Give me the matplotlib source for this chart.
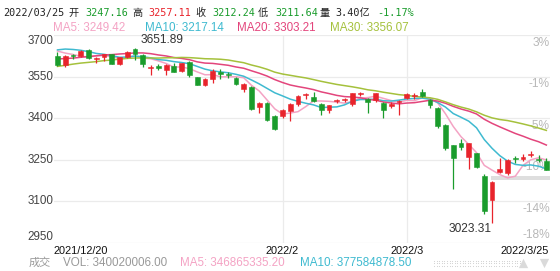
import numpy as np
import pandas as pd
import matplotlib
matplotlib.use("Agg")
import matplotlib.pyplot as plt

# trading days 2021/12/20 .. 2022/03/25 (new year + spring festival closed)
holidays = ["2022-01-03", "2022-01-31", "2022-02-01", "2022-02-02", "2022-02-03", "2022-02-04"]
dates = [d for d in pd.bdate_range("2021-12-20", "2022-03-25") if d.strftime("%Y-%m-%d") not in holidays]

opens = [3625, 3592, 3628, 3625, 3646, 3612, 3620, 3630, 3596, 3622,
         3649, 3628, 3582, 3590, 3573, 3590, 3570, 3601, 3547, 3521,
         3541, 3566, 3558, 3545, 3507, 3511, 3440, 3455, 3408, 3407,
         3427, 3451, 3482, 3475, 3451, 3428, 3462, 3466, 3450, 3488,
         3468, 3464, 3456, 3443, 3458, 3472, 3481, 3496, 3466, 3437,
         3374, 3303, 3312, 3259, 3273, 3191, 3105, 3207, 3201, 3256,
         3252, 3268, 3252, 3247.16]
highs = [3640, 3627, 3632, 3646, 3650, 3622, 3633, 3632, 3622, 3642,
         3651.89, 3631, 3592, 3596, 3594, 3598, 3600, 3605, 3550, 3545,
         3576, 3576, 3566, 3550, 3526, 3515, 3460, 3458, 3410, 3432,
         3455, 3482, 3490, 3496, 3455, 3448, 3470, 3472, 3492, 3496,
         3472, 3491, 3460, 3458, 3466, 3491, 3491, 3507, 3470, 3440,
         3378, 3305, 3325, 3312, 3275, 3198, 3173, 3256, 3252, 3265,
         3270, 3281, 3266, 3257.11]
lows = [3588, 3583, 3612, 3620, 3612, 3600, 3605, 3595, 3592, 3618,
        3610, 3583, 3556, 3575, 3556, 3565, 3565, 3550, 3518, 3515,
        3526, 3540, 3545, 3518, 3496, 3428, 3418, 3390, 3356, 3400,
        3391, 3445, 3470, 3458, 3413, 3420, 3455, 3460, 3445, 3480,
        3420, 3460, 3400, 3438, 3412, 3468, 3470, 3476, 3438, 3365,
        3285, 3145, 3285, 3216, 3220, 3056, 3023.31, 3202, 3196, 3240,
        3245, 3260, 3242, 3211.64]
closes = [3593.60, 3625.13, 3622.62, 3643.34, 3618.05, 3615.97, 3630.11, 3597.00, 3619.19, 3639.78,
          3632.33, 3595.18, 3586.08, 3579.54, 3593.52, 3567.44, 3597.43, 3555.26, 3521.26, 3541.67,
          3569.91, 3558.18, 3555.06, 3522.57, 3524.11, 3433.06, 3455.67, 3394.25, 3361.44, 3429.58,
          3452.63, 3479.95, 3485.91, 3462.95, 3428.88, 3446.09, 3465.83, 3468.04, 3490.76, 3490.61,
          3457.15, 3489.15, 3429.96, 3451.41, 3462.31, 3488.83, 3484.19, 3481.11, 3447.65, 3372.86,
          3293.53, 3256.39, 3296.09, 3309.75, 3223.53, 3063.97, 3170.71, 3215.04, 3251.07, 3253.69,
          3259.86, 3271.03, 3250.26, 3212.24]
# closes before the visible window, only feed the moving averages
prior_closes = [3498.63, 3507.00, 3492.46, 3532.79, 3539.10, 3533.30, 3521.79, 3537.37, 3520.71, 3560.37,
                3589.09, 3589.70, 3592.70, 3584.18, 3564.09, 3562.70, 3563.89, 3576.89, 3573.84, 3607.43,
                3589.31, 3595.09, 3637.57, 3673.04, 3666.35, 3681.08, 3661.53, 3647.63, 3675.02, 3632.36]

price_ticks = [3700, 3550, 3400, 3250, 3100, 2950]
ma_periods = [5, 10, 20, 30]
vol_info = ["VOL: 340020006.00", "MA5: 346865335.20", "MA10: 377584878.50"]

RED = "#e8242c"
GREEN = "#1a9c2c"
MA_COLORS = ["#f4a3c4", "#3fbad0", "#e3457c", "#a5c13c"]
FONT = "Liberation Sans"
CJK = ["DejaVu Sans Mono", "Noto Sans CJK SC"]

W, H = 560, 271
fig = plt.figure(figsize=(W / 100, H / 100), dpi=100)
ax = fig.add_axes([54 / W, 1 - 243 / H, 496 / W, 208 / H])
n = len(closes)
x = np.arange(n)
ax.set_xlim(-0.45, 63.47)
ax.set_ylim(2950, 3700)
ax.axis("off")

# grid
for p in price_ticks:
    ax.axhline(p, color="#ebebeb", lw=0.9, zorder=0)
month_idx = [i for i in range(1, n) if dates[i].month != dates[i - 1].month and dates[i].month != 1]
for i in month_idx:
    ax.axvline(i, color="#ebebeb", lw=0.9, zorder=0)

# moving averages
allc = pd.Series(prior_closes + closes)
for per, col in zip(ma_periods, MA_COLORS):
    ma = allc.rolling(per).mean().values[len(prior_closes):]
    ax.plot(x, ma, color=col, lw=1.1, zorder=2)

# candles
o = np.array(opens); c = np.array(closes); h = np.array(highs); l = np.array(lows)
cols = [RED if cc >= oo else GREEN for oo, cc in zip(o, c)]
ax.vlines(x, l, h, colors=cols, lw=0.9, zorder=3)
body_lo = np.minimum(o, c)
body_h = np.maximum(np.abs(c - o), 2.5)
ax.bar(x, body_h, bottom=body_lo, width=0.62, color=cols, edgecolor=cols, lw=0.4, zorder=4)

# light band under the last candles
lo_i = int(np.argmin(l))
ax.fill_between([lo_i - 0.1, n - 0.5], 3177, 3190, color="#dedede", lw=0, zorder=1)

# high / low labels
hi_i = int(np.argmax(h))
ax.annotate(f"{h[hi_i]:.2f}", (hi_i, h[hi_i]), xytext=(4, 6), textcoords="offset points",
            ha="left", va="center", fontsize=8.6, family=FONT, color="#333333")
ax.annotate(f"{l[lo_i]:.2f}", (lo_i, l[lo_i]), xytext=(0, -4.5), textcoords="offset points",
            ha="right", va="center", fontsize=8.6, family=FONT, color="#333333")

# left price labels
for k, p in enumerate(price_ticks):
    va = "top" if k == 0 else ("bottom" if k == len(price_ticks) - 1 else "center")
    ax.text(-0.5, p, str(p), ha="right", va=va, fontsize=8.4, family=FONT, color="#444444")

# right percent labels
base = closes[0]
for k, p in enumerate(price_ticks):
    pct = f"{round((p / base - 1) * 100):d}%"
    va = "bottom" if k == len(price_ticks) - 1 else "top"
    ax.text(63.45, p + (6 if va == "bottom" else -6), pct, ha="right", va=va,
            fontsize=8.6, family=FONT, color="#b8b8b8", zorder=1)

# date labels
first, last = dates[0], dates[-1]
fig.text(54 / W, 1 - 251 / H, f"{first.year}/{first.month}/{first.day}", ha="left", va="center",
         fontsize=7.9, family=FONT, color="#111111")
for i in month_idx:
    xf = (54 + (i + 0.45) / 63.92 * 496) / W
    fig.text(xf, 1 - 251 / H, f"{dates[i].year}/{dates[i].month}", ha="center", va="center",
             fontsize=7.9, family=FONT, color="#111111")
fig.text(549 / W, 1 - 251 / H, f"{last.year}/{last.month}/{last.day}", ha="right", va="center",
         fontsize=7.9, family=FONT, color="#111111")

# header line
chg = (closes[-1] / closes[-2] - 1) * 100
head = [(3, last.strftime("%Y/%m/%d"), "#222222"),
        (68, "开", "#222222"), (85, f"{opens[-1]:.2f}", GREEN),
        (132, "高", "#222222"), (148, f"{highs[-1]:.2f}", RED),
        (195, "收", "#222222"), (212, f"{closes[-1]:.2f}", GREEN),
        (258, "低", "#222222"), (275, f"{lows[-1]:.2f}", GREEN),
        (320, "量", "#222222"), (335, "3.40亿", "#222222"),
        (377, f"{chg:.2f}%", GREEN)]
for px, s, col in head:
    fig.text(px / W, 1 - 13 / H, s, ha="left", va="center", fontsize=7.3, family=CJK, color=col)

# MA legend line
ma_pos = [53, 145, 237, 330]
for px, per, col in zip(ma_pos, ma_periods, MA_COLORS):
    val = allc.iloc[-per:].mean()
    fig.text(px / W, 1 - 28 / H, f"MA{per}: {val:.2f}", ha="left", va="center",
             fontsize=8.4, family=FONT, color=col)

# volume line
fig.text(29 / W, 1 - 263 / H, "成交", ha="left", va="center", fontsize=8,
         family=["Noto Sans CJK SC"], color="#9a9a9a", style="italic")
for px, s, col in zip([63, 180, 300], vol_info, ["#999999", MA_COLORS[0], MA_COLORS[1]]):
    fig.text(px / W, 1 - 263 / H, s, ha="left", va="center", fontsize=8.4, family=FONT, color=col)

# scroll handle and arrows in pixel coords
ov = fig.add_axes([0, 0, 1, 1], zorder=-1)
ov.set_xlim(0, W)
ov.set_ylim(H, 0)
ov.axis("off")
gx, gy = np.meshgrid(np.arange(434, 521, 2.6), [260.5, 263.2, 265.9])
ov.scatter(gx.ravel(), gy.ravel(), s=0.6, color="#cfcfcf", lw=0)
ov.scatter([523], [263], marker="^", s=45, color="#dadada", lw=0)
ov.scatter([544], [263], marker="v", s=45, color="#dadada", lw=0)

fig.savefig("out.png", dpi=100)
